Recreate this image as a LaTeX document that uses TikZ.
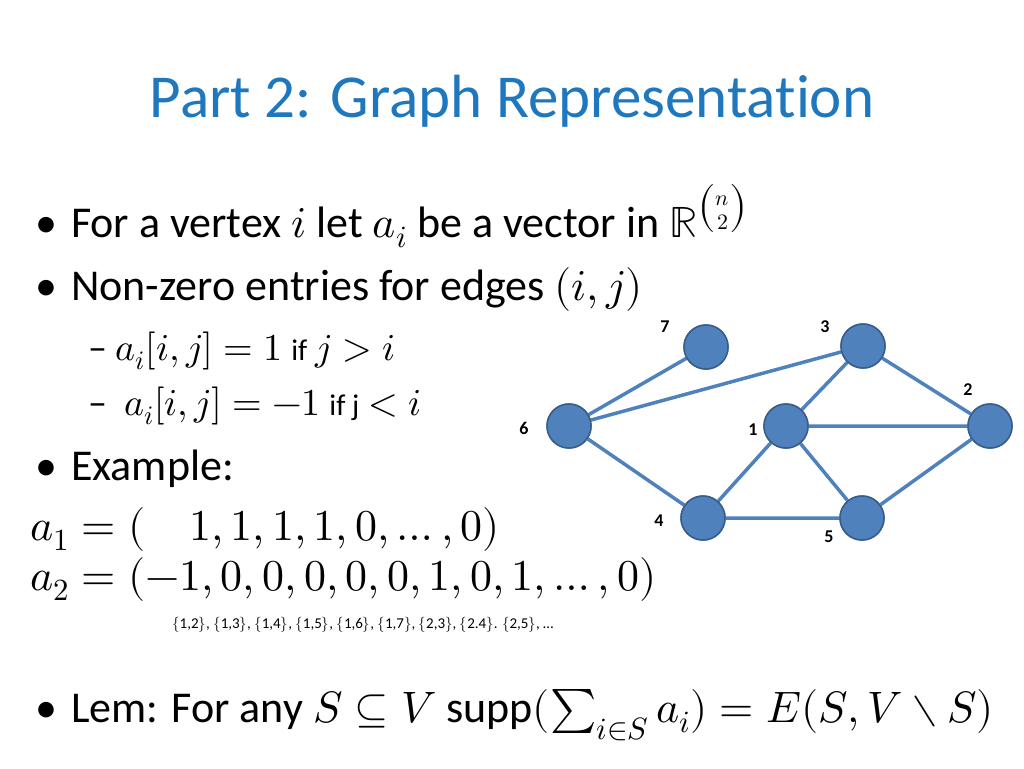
\documentclass[tikz,border=0pt]{standalone}
\usepackage{amsmath}
\usepackage{unicode-math}
\setmainfont{Carlito}[Ligatures=NoCommon]
\setmathfont{Latin Modern Math}
\definecolor{ttl}{RGB}{31,120,190}
\definecolor{vfill}{RGB}{79,129,189}
\definecolor{vdraw}{RGB}{56,93,138}
\begin{document}
\begin{tikzpicture}[x=1pt,y=-1pt,
  txt/.style={anchor=base west,inner sep=0,font=\fontsize{44}{48}\selectfont},
  vert/.style={circle,fill=vfill,draw=vdraw,line width=1.5pt,minimum size=44,inner sep=0},
  lbl/.style={font=\fontsize{18}{20}\selectfont\bfseries},
  edge/.style={draw=vfill,line width=3.5pt}]
\useasboundingbox (0,0) rectangle (1024,768);
\node[txt,anchor=base,text=ttl,font=\fontsize{61}{66}\selectfont] (title) at (512,117) {Part 2: Graph Representation};
\node[txt] (b1) at (35,237) {•\hspace{14pt}For a vertex $i$ let $a_i$ be a vector in $\mathbb{R}^{\binom{n}{2}}$};
\node[txt] (b2) at (35,300) {•\hspace{14pt}Non-zero entries for edges $(i,j)$};
\node[txt] (b3) at (88,360) {\fontsize{38}{42}\selectfont – $a_i[i,j]=1$ {\fontsize{30}{34}\selectfont if} $j>i$};
\node[txt] (b4) at (88,415) {\fontsize{38}{42}\selectfont – \ $a_i[i,j]=-1$ {\fontsize{30}{34}\selectfont if j} $<i$};
\node[txt] (b5) at (35,480) {•\hspace{14pt}Example:};
\node[txt] (e1) at (30,540) {$a_1=(\quad 1,1,1,1,0,\ldots,0)$};
\node[txt] (e2) at (30,590) {$a_2=(-1,0,0,0,0,0,1,0,1,\ldots,0)$};
\node[txt,font=\fontsize{15}{17}\selectfont] (idx) at (172,628) {$\{$1,2$\}$, $\{$1,3$\}$, $\{$1,4$\}$, $\{$1,5$\}$, $\{$1,6$\}$, $\{$1,7$\}$, $\{$2,3$\}$, $\{$2.4$\}$. $\{$2,5$\}$, \ldots};
\node[txt] (lem) at (35,722) {•\hspace{14pt}Lem: For any $S\subseteq V$ supp$(\sum_{i\in S}a_i)=E(S,V\setminus S)$};
\node[vert] (v7) at (706,347) {};
\node[vert] (v3) at (863,346) {};
\node[vert] (v6) at (569,426) {};
\node[vert] (v1) at (786,426) {};
\node[vert] (v2) at (990,426) {};
\node[vert] (v4) at (703,518) {};
\node[vert] (v5) at (862,518) {};
\node[lbl] (l7) at (665,327) {7};
\node[lbl] (l3) at (825,327) {3};
\node[lbl] (l2) at (968,390) {2};
\node[lbl] (l6) at (524,428) {6};
\node[lbl] (l1) at (753,430) {1};
\node[lbl] (l4) at (659,521) {4};
\node[lbl] (l5) at (829,537) {5};
\path[edge] (v6)--(v7) (v6)--(v3) (v6)--(v4) (v3)--(v1) (v3)--(v2) (v1)--(v2) (v1)--(v4) (v1)--(v5) (v4)--(v5) (v5)--(v2);
\foreach \v in {v1,v2,v3,v4,v5,v6,v7} \node[vert] at (\v) {};
\end{tikzpicture}
\end{document}
